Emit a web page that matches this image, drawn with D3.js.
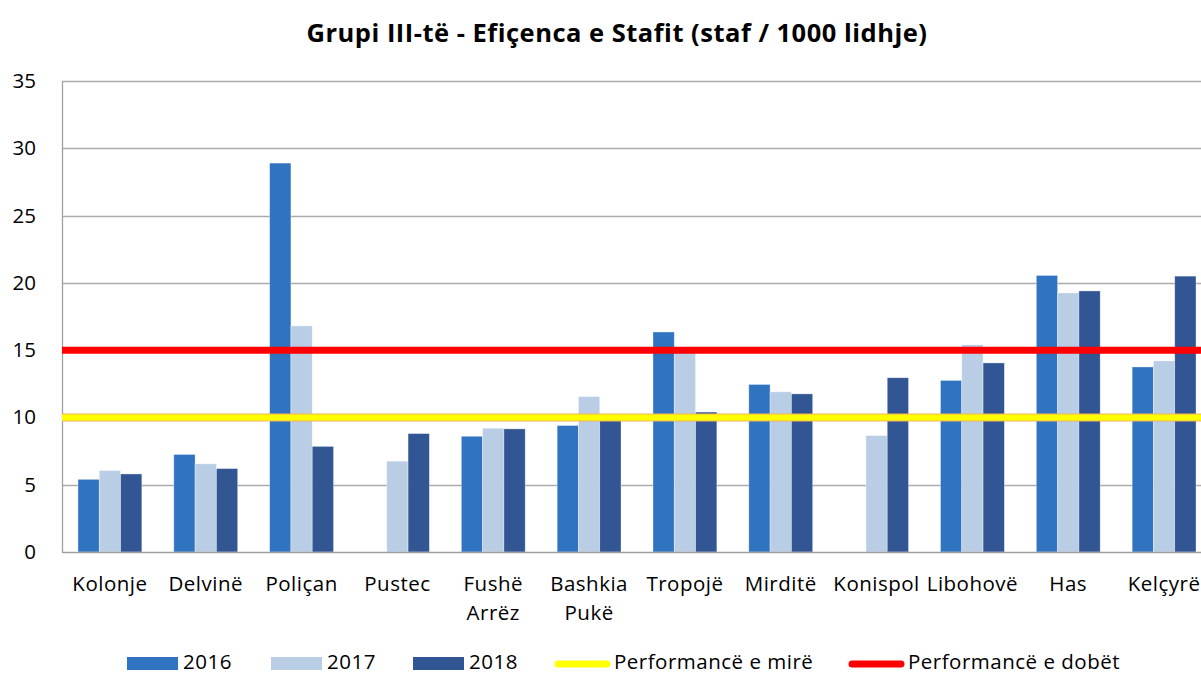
<!DOCTYPE html>
<html><head><meta charset="utf-8">
<script src="https://cdn.jsdelivr.net/npm/d3@7"></script>
<style>body{margin:0;background:#fff;} svg{display:block;}</style>
</head><body>
<script>
const categories = [["Kolonje"],["Delvinë"],["Poliçan"],["Pustec"],["Fushë","Arrëz"],["Bashkia","Pukë"],["Tropojë"],["Mirditë"],["Konispol"],["Libohovë"],["Has"],["Kelçyrë"]];
const years = ["2016","2017","2018"];
const values2016 = [5.4, 7.25, 28.9, null, 8.6, 9.4, 16.35, 12.45, null, 12.75, 20.55, 13.75];
const values2017 = [6.05, 6.55, 16.8, 6.75, 9.2, 11.55, 14.9, 11.9, 8.65, 15.4, 19.25, 14.2];
const values2018 = [5.8, 6.2, 7.85, 8.8, 9.15, 10.0, 10.4, 11.75, 12.95, 14.05, 19.4, 20.5];
const goodPerformance = [10,10,10,10,10,10,10,10,10,10,10,10];
const poorPerformance = [15,15,15,15,15,15,15,15,15,15,15,15];
const yTicks = [0,5,10,15,20,25,30,35];
const title = "Grupi III-të - Efiçenca e Stafit (staf / 1000 lidhje)";
const legendLabels = ["2016","2017","2018","Performancë e mirë","Performancë e dobët"];

const W = 1201, H = 675;
const font = "'Open Sans', Lato, sans-serif";
const colors = ["#3073C1", "#B9CDE5", "#325694"];
const series = [values2016, values2017, values2018];

const svg = d3.select("body").append("svg").attr("width", W).attr("height", H).style("font-family", font);

const x0 = d3.scaleBand().domain(d3.range(categories.length)).range([62, 1212]).paddingInner(1/3).paddingOuter(1/6);
const x1 = d3.scaleBand().domain(d3.range(3)).range([0, x0.bandwidth()]);
const y = d3.scaleLinear().domain([0, 35]).range([552, 81]);
const catW = (1212 - 62) / categories.length;

// gridlines
svg.append("g").selectAll("line").data(yTicks.filter(d => d > 0)).join("line")
  .attr("x1", 62).attr("x2", 1212).attr("y1", d => Math.round(y(d)) + 0.5).attr("y2", d => Math.round(y(d)) + 0.5)
  .attr("stroke", "#ABABAB").attr("stroke-width", 1.3);

// bars
const g = svg.append("g");
series.forEach((vals, s) => {
  g.append("g").selectAll("rect").data(vals.map((v, i) => ({v, i})).filter(d => d.v != null)).join("rect")
    .attr("x", d => x0(d.i) + x1(s)).attr("width", x1.bandwidth())
    .attr("y", d => y(d.v)).attr("height", d => y(0) - y(d.v))
    .attr("fill", colors[s]).attr("stroke", "rgba(255,255,255,0.5)").attr("stroke-width", 0.7);
});

// axes
const yAxis = d3.axisLeft(y).tickValues(yTicks).tickSize(0).tickPadding(0);
const ya = svg.append("g").attr("transform", "translate(62,0)").call(yAxis);
ya.select(".domain").attr("stroke", "#A0A0A0").attr("stroke-width", 1.3);
ya.selectAll("text").attr("x", -26).attr("font-size", 20.5).attr("font-family", font).attr("fill", "#000");

svg.append("line").attr("x1", 62).attr("x2", 1212).attr("y1", 552.5).attr("y2", 552.5).attr("stroke", "#A0A0A0").attr("stroke-width", 1.3);

// x labels
const xl = svg.append("g").selectAll("text").data(categories).join("text")
  .attr("x", (d, i) => x0(i) + x0.bandwidth() / 2).attr("y", 591)
  .attr("text-anchor", "middle").attr("font-size", 20.5).attr("letter-spacing", 0.5).attr("fill", "#000");
xl.selectAll("tspan").data(d => d).join("tspan")
  .attr("x", function() { return d3.select(this.parentNode).attr("x"); })
  .attr("dy", (d, i) => i === 0 ? 0 : 29).text(d => d);

// threshold lines
const linePts = arr => arr.flatMap((v, i) => [[62 + i * catW, v], [62 + (i + 1) * catW, v]]);
const line = d3.line().x(d => d[0]).y(d => y(d[1]));
svg.append("path").attr("d", line(linePts(goodPerformance))).attr("stroke", "#F2B25B").attr("stroke-width", 8).attr("fill", "none");
svg.append("path").attr("d", line(linePts(goodPerformance))).attr("stroke", "#FFFF00").attr("stroke-width", 6).attr("fill", "none");
svg.append("path").attr("d", line(linePts(poorPerformance))).attr("stroke", "#FF0000").attr("stroke-width", 7).attr("fill", "none");

// title
svg.append("text").attr("x", 617).attr("y", 42).attr("text-anchor", "middle")
  .attr("font-size", 25.5).attr("letter-spacing", 0.5).attr("font-weight", "bold").text(title);

// legend
const lg = svg.append("g").attr("font-size", 20.5).attr("letter-spacing", 0.5);
const swatchX = [127, 271, 413];
years.forEach((yr, i) => {
  lg.append("rect").attr("x", swatchX[i]).attr("y", 657).attr("width", 51).attr("height", 13).attr("fill", colors[i]);
  lg.append("text").attr("x", swatchX[i] + 56).attr("y", 669).text(legendLabels[i]);
});
const lineLeg = [[555, "#FFFF00", legendLabels[3]], [849, "#FF0000", legendLabels[4]]];
lineLeg.forEach(([lx, c, t]) => {
  lg.append("line").attr("x1", lx + 3).attr("x2", lx + 52).attr("y1", 664).attr("y2", 664)
    .attr("stroke", c).attr("stroke-width", 7).attr("stroke-linecap", "round");
  lg.append("text").attr("x", lx + 59).attr("y", 669).text(t);
});
</script>
</body></html>
